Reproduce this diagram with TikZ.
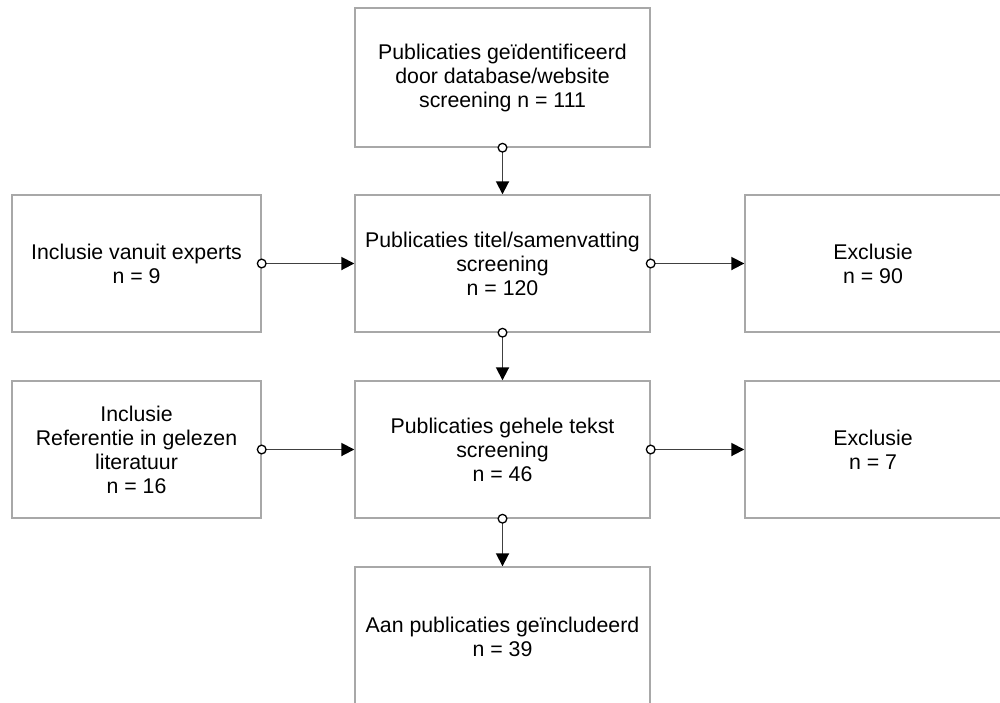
\documentclass[tikz,border=0pt]{standalone}
\usepackage{fontspec}
\setmainfont{Liberation Sans}
\usetikzlibrary{arrows.meta}
\definecolor{boxgray}{HTML}{A8A8A8}
\definecolor{linegray}{HTML}{404040}
\begin{document}
\begin{tikzpicture}[x=1pt,y=1pt,
  box/.style={draw=boxgray, line width=1.4pt, fill=white, align=center,
    font=\fontsize{21.3}{24}\selectfont, inner sep=0pt},
  flow/.style={draw=linegray, line width=1.8pt,
    {Circle[open,length=10pt,width=10pt,line width=1.3pt,fill=white,color=black]}-{Triangle[length=13pt,width=13pt,color=black]},
    shorten <=-5pt}
]
\useasboundingbox (0,0) rectangle (1000,-702);
\node[box, minimum width=295pt, minimum height=139pt] (top) at (502.5,-77.5)
  {Publicaties geïdentificeerd\\door database/website\\screening n = 111};
\node[box, minimum width=295pt, minimum height=137pt] (mid1) at (502.5,-263.5)
  {Publicaties titel/samenvatting\\screening\\n = 120};
\node[box, minimum width=249pt, minimum height=137pt] (left1) at (136.5,-263.5)
  {Inclusie vanuit experts\\n = 9};
\node[box, minimum width=256pt, minimum height=137pt] (right1) at (873,-263.5)
  {Exclusie\\n = 90};
\node[box, minimum width=295pt, minimum height=137pt] (mid2) at (502.5,-449.5)
  {Publicaties gehele tekst\\screening\\n = 46};
\node[box, minimum width=249pt, minimum height=137pt] (left2) at (136.5,-449.5)
  {Inclusie\\Referentie in gelezen\\literatuur\\n = 16};
\node[box, minimum width=256pt, minimum height=137pt] (right2) at (873,-449.5)
  {Exclusie\\n = 7};
\node[box, minimum width=295pt, minimum height=139pt] (bot) at (502.5,-636.5)
  {Aan publicaties geïncludeerd\\n = 39};
\draw[flow] (top.south) -- (mid1.north);
\draw[flow] (left1.east) -- (mid1.west);
\draw[flow] (mid1.east) -- (right1.west);
\draw[flow] (mid1.south) -- (mid2.north);
\draw[flow] (left2.east) -- (mid2.west);
\draw[flow] (mid2.east) -- (right2.west);
\draw[flow] (mid2.south) -- (bot.north);
\end{tikzpicture}
\end{document}
